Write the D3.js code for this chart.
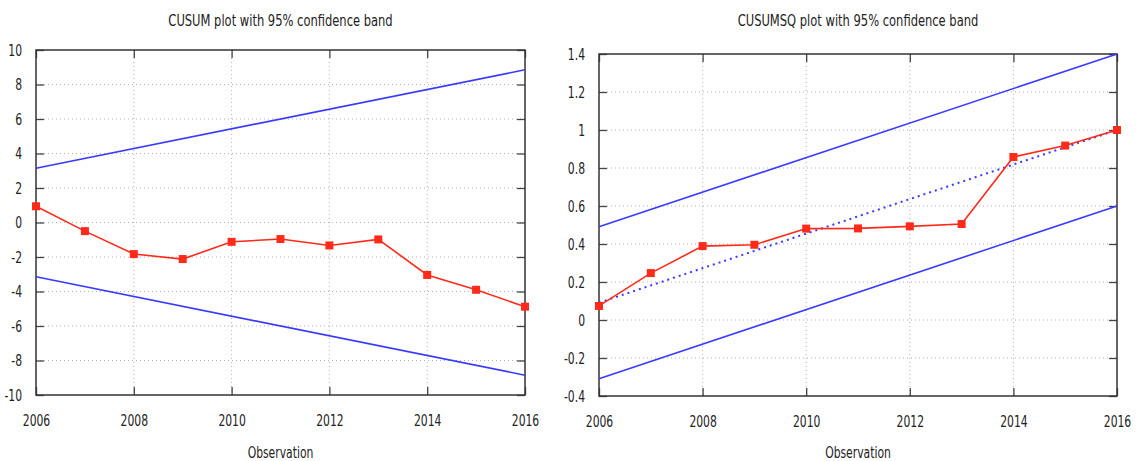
<!DOCTYPE html>
<html><head><meta charset="utf-8">
<script src="https://cdn.jsdelivr.net/npm/d3@7"></script>
<style>
body{margin:0;background:#fff;}
text{font-family:"DejaVu Sans Condensed","DejaVu Sans",sans-serif;fill:#222;}
</style></head><body>
<svg id="c" width="1139" height="461"></svg>
<script>
const years = [2006,2007,2008,2009,2010,2011,2012,2013,2014,2015,2016];
const cusum = [0.94,-0.5,-1.83,-2.12,-1.12,-0.96,-1.33,-0.98,-3.04,-3.9,-4.88];
const cusumsq = [0.074,0.247,0.389,0.396,0.481,0.482,0.493,0.505,0.858,0.918,1.0];
const bandYears = [2006,2016];
const cusumUpper = [3.15,8.85];
const cusumLower = [-3.15,-8.85];
const sqUpper = [0.491,1.4];
const sqLower = [-0.309,0.6];
const sqExpected = [0.091,1.0];
const xTicks = [2006,2008,2010,2012,2014,2016];
const cusumTicks = [10,8,6,4,2,0,-2,-4,-6,-8,-10];
const sqTicks = [1.4,1.2,1,0.8,0.6,0.4,0.2,0,-0.2,-0.4];

const svg = d3.select("#c");
const red = "#ff2a1a", blue = "#3a3aff";
const SX = 0.75, FS = 16, TSX = 0.8;

function squeeze(sel){
  sel.each(function(){
    const t = d3.select(this);
    const x = +t.attr("x") || 0;
    t.attr("x", x/SX).attr("transform", `scale(${SX},1)`);
  });
}

function panel(o){
  const g = svg.append("g");
  const x = d3.scaleLinear().domain([2006,2016]).range([o.l,o.r]);
  const y = d3.scaleLinear().domain(o.domain).range([o.b,o.t]);
  g.selectAll(".gx").data(xTicks.slice(1,-1)).join("line")
    .attr("x1",d=>x(d)).attr("x2",d=>x(d)).attr("y1",o.t).attr("y2",o.b)
    .attr("stroke","#b0b0b0").attr("stroke-width",1).attr("stroke-dasharray","1,3");
  g.selectAll(".gy").data(o.ticks.filter(d=>d!==o.domain[0]&&d!==o.domain[1])).join("line")
    .attr("y1",d=>y(d)).attr("y2",d=>y(d)).attr("x1",o.l).attr("x2",o.r)
    .attr("stroke","#b0b0b0").attr("stroke-width",1).attr("stroke-dasharray","1,3");
  const tl = 8;
  const ax = g.append("g");
  ax.append("g").attr("transform",`translate(0,${o.b})`)
    .call(d3.axisBottom(x).tickValues(xTicks).tickSize(-tl).tickPadding(tl+12).tickFormat(d3.format("d")));
  ax.append("g").attr("transform",`translate(0,${o.t})`)
    .call(d3.axisTop(x).tickValues(xTicks).tickSize(-tl).tickFormat(""));
  ax.append("g").attr("transform",`translate(${o.l},0)`)
    .call(d3.axisLeft(y).tickValues(o.ticks).tickSize(-tl).tickPadding(tl+6).tickFormat(d=>String(d)));
  ax.append("g").attr("transform",`translate(${o.r},0)`)
    .call(d3.axisRight(y).tickValues(o.ticks).tickSize(-tl).tickFormat(""));
  ax.selectAll(".domain").remove();
  ax.selectAll(".tick line").attr("stroke","#444").attr("stroke-width",1.3);
  ax.selectAll(".tick text").attr("font-size",FS).attr("fill","#222")
    .style("font-family",'"DejaVu Sans Condensed","DejaVu Sans",sans-serif')
    .call(squeeze);
  g.append("rect").attr("x",o.l).attr("y",o.t).attr("width",o.r-o.l).attr("height",o.b-o.t)
    .attr("fill","none").attr("stroke","#333").attr("stroke-width",1.5);
  const line = d3.line().x(d=>x(d[0])).y(d=>y(d[1]));
  [o.upper,o.lower].forEach(arr=>{
    g.append("path").attr("d",line(bandYears.map((yr,i)=>[yr,arr[i]])))
      .attr("fill","none").attr("stroke",blue).attr("stroke-width",1.6);
  });
  if(o.expected){
    g.append("path").attr("d",line(bandYears.map((yr,i)=>[yr,o.expected[i]])))
      .attr("fill","none").attr("stroke",blue).attr("stroke-width",2).attr("stroke-dasharray","2,4");
  }
  g.append("path").attr("d",line(years.map((yr,i)=>[yr,o.values[i]])))
    .attr("fill","none").attr("stroke",red).attr("stroke-width",1.6);
  g.selectAll(".pt").data(years).join("rect")
    .attr("x",(d)=>x(d)-4).attr("y",(d,i)=>y(o.values[i])-4).attr("width",8).attr("height",8)
    .attr("fill",red);
  const cx = (o.l+o.r)/2;
  svg.append("text").attr("x",cx/TSX).attr("y",26).attr("transform",`scale(${TSX},1)`)
    .attr("text-anchor","middle").attr("font-size",FS).text(o.title);
  svg.append("text").attr("x",cx/SX).attr("y",458).attr("transform",`scale(${SX},1)`)
    .attr("text-anchor","middle").attr("font-size",FS).text("Observation");
}

panel({l:36,r:525,t:50,b:395,domain:[-10,10],ticks:cusumTicks,values:cusum,
  upper:cusumUpper,lower:cusumLower,title:"CUSUM plot with 95% confidence band"});
panel({l:599,r:1117,t:54,b:396,domain:[-0.4,1.4],ticks:sqTicks,values:cusumsq,
  upper:sqUpper,lower:sqLower,expected:sqExpected,title:"CUSUMSQ plot with 95% confidence band"});
</script>
</body></html>
